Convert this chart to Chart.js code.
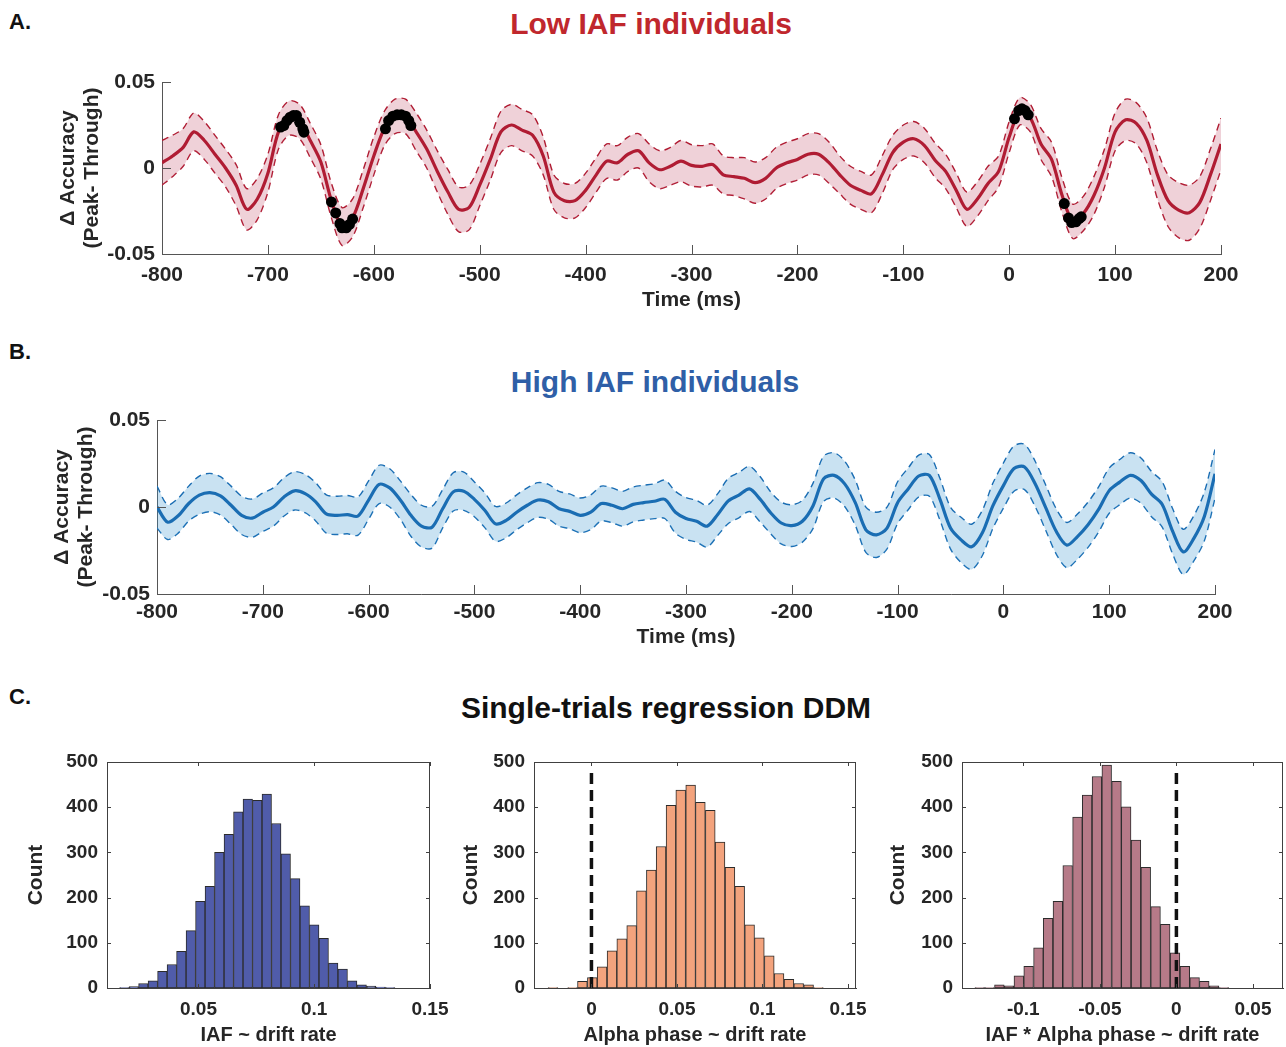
<!DOCTYPE html>
<html>
<head>
<meta charset="utf-8">
<script src="https://cdn.jsdelivr.net/npm/chart.js@4.4.1/dist/chart.umd.min.js"></script>
<style>
  body { margin: 0; background: #fff; width: 1286px; height: 1047px; position: relative; overflow: hidden; font-family: 'Liberation Sans', Arial, sans-serif; }
  canvas { position: absolute; }
  .lbl { position: absolute; font-weight: bold; font-size: 22px; line-height: 26px; color: #111; }
  .ttl { position: absolute; font-weight: bold; font-size: 30px; line-height: 36px; text-align: center; width: 700px; }
</style>
</head>
<body>
<div class="lbl" style="left:9px;top:9px">A.</div>
<div class="ttl" style="left:301px;top:6px;color:#c0272d">Low IAF individuals</div>
<div class="lbl" style="left:9px;top:339px">B.</div>
<div class="ttl" style="left:305px;top:364px;color:#2f5fa7">High IAF individuals</div>
<div class="lbl" style="left:9px;top:684px">C.</div>
<div class="ttl" style="left:316px;top:690px;color:#111">Single-trials regression DDM</div>

<canvas id="chA" width="1286" height="254" style="left:0;top:60px"></canvas>
<canvas id="chB" width="1286" height="250" style="left:0;top:400px"></canvas>
<canvas id="h1" width="460" height="307" style="left:0;top:740px"></canvas>
<canvas id="h2" width="440" height="307" style="left:440px;top:740px"></canvas>
<canvas id="h3" width="426" height="307" style="left:860px;top:740px"></canvas>

<script>
// time axis (ms), 10 ms steps
var timeMs = [
  -800,-790,-780,-770,-760,-750,-740,-730,-720,-710,
  -700,-690,-680,-670,-660,-650,-640,-630,-620,-610,
  -600,-590,-580,-570,-560,-550,-540,-530,-520,-510,
  -500,-490,-480,-470,-460,-450,-440,-430,-420,-410,
  -400,-390,-380,-370,-360,-350,-340,-330,-320,-310,
  -300,-290,-280,-270,-260,-250,-240,-230,-220,-210,
  -200,-190,-180,-170,-160,-150,-140,-130,-120,-110,
  -100,-90,-80,-70,-60,-50,-40,-30,-20,-10,
  0,10,20,30,40,50,60,70,80,90,
  100,110,120,130,140,150,160,170,180,190,
  200
];

// Low IAF: mean delta accuracy and SEM
var lowMean = [
  0.003, 0.007, 0.012, 0.021, 0.016, 0.008, 0.000, -0.010, -0.024, -0.018,
  -0.003, 0.021, 0.029, 0.027, 0.016, 0.0035, -0.019, -0.034, -0.029, -0.012,
  0.007, 0.023, 0.030, 0.030, 0.021, 0.011, -0.002, -0.014, -0.024, -0.023,
  -0.010, 0.005, 0.021, 0.025, 0.022, 0.019, 0.007, -0.014, -0.019, -0.019,
  -0.013, -0.004, 0.004, 0.003, 0.008, 0.010, 0.003, -0.001, 0.001, 0.004,
  0.0015, 0.001, 0.002, -0.004, -0.005, -0.006, -0.0085, -0.006, 0.000, 0.003,
  0.005, 0.008, 0.008, 0.003, -0.004, -0.010, -0.013, -0.015, -0.004, 0.009,
  0.015, 0.017, 0.013, 0.0045, -0.002, -0.013, -0.024, -0.018, -0.009, -0.002,
  0.018, 0.033, 0.029, 0.014, 0.005, -0.016, -0.031, -0.0265, -0.016, 0.000,
  0.021, 0.028, 0.026, 0.016, -0.004, -0.019, -0.0245, -0.026, -0.020, -0.004,
  0.014
];
var lowSem = [
  0.013, 0.012, 0.011, 0.011, 0.011, 0.011, 0.011, 0.012, 0.012, 0.012,
  0.011, 0.010, 0.010, 0.010, 0.010, 0.010, 0.010, 0.011, 0.011, 0.011,
  0.011, 0.010, 0.010, 0.010, 0.011, 0.011, 0.012, 0.013, 0.013, 0.013,
  0.012, 0.012, 0.012, 0.012, 0.012, 0.012, 0.011, 0.010, 0.010, 0.010,
  0.010, 0.010, 0.010, 0.010, 0.010, 0.010, 0.011, 0.011, 0.011, 0.012,
  0.012, 0.012, 0.012, 0.011, 0.011, 0.012, 0.012, 0.012, 0.012, 0.012,
  0.012, 0.012, 0.012, 0.012, 0.011, 0.011, 0.011, 0.011, 0.011, 0.010,
  0.010, 0.010, 0.010, 0.010, 0.010, 0.010, 0.010, 0.010, 0.010, 0.009,
  0.009, 0.008, 0.008, 0.009, 0.010, 0.010, 0.010, 0.010, 0.011, 0.011,
  0.011, 0.012, 0.012, 0.013, 0.014, 0.015, 0.016, 0.016, 0.015, 0.015,
  0.015
];
// significant time points (black dots)
var lowSigTime = [-688, -685, -682, -679, -676, -673, -670, -667, -666,
  -640, -636, -632, -630, -626, -623, -620,
  -589, -586, -582, -578, -574, -570, -567, -565,
  5, 9, 12, 15, 18,
  52, 56, 59, 63, 66, 68];
var lowSigValue = [0.0238, 0.0247, 0.0276, 0.0295, 0.0305, 0.0305, 0.0266, 0.0228, 0.0208,
  -0.0197, -0.0261, -0.0323, -0.0348, -0.0348, -0.0328, -0.0297,
  0.0228, 0.0276, 0.0301, 0.0309, 0.0309, 0.0301, 0.0276, 0.0247,
  0.0286, 0.0334, 0.0344, 0.0334, 0.0309,
  -0.0207, -0.029, -0.0317, -0.0313, -0.0294, -0.0284];

// High IAF
var highMean = [
  0.000, -0.0087, -0.005, 0.002, 0.0068, 0.0083, 0.0064, 0.001, -0.0048, -0.0064,
  -0.003, 0.000, 0.0058, 0.0093, 0.0077, 0.003, -0.004, -0.0048, -0.0044, -0.0052,
  0.004, 0.013, 0.011, 0.004, -0.0048, -0.011, -0.0116, -0.001, 0.0087, 0.0091,
  0.0044, -0.002, -0.0097, -0.0077, -0.003, 0.001, 0.004, 0.003, -0.001, -0.0025,
  -0.0048, -0.003, 0.002, 0.001, -0.001, 0.0015, 0.0025, 0.0033, 0.0044, -0.003,
  -0.0066, -0.0082, -0.011, -0.0043, 0.0035, 0.0068, 0.0104, 0.0045, -0.0033, -0.0092,
  -0.0107, -0.0082, 0.0006, 0.0162, 0.0182, 0.0133, 0.0025, -0.0131, -0.016, -0.0121,
  0.0025, 0.0104, 0.0178, 0.0182, 0.0045, -0.0121, -0.0189, -0.0229, -0.015, 0.0006,
  0.0123, 0.0221, 0.023, 0.0133, -0.0004, -0.0141, -0.0219, -0.017, -0.0102, -0.0014,
  0.0094, 0.0143, 0.0182, 0.0152, 0.0074, 0.0016, -0.014, -0.0258, -0.018, -0.0053,
  0.0191
];
var highSem = [
  0.012, 0.010, 0.010, 0.010, 0.011, 0.011, 0.011, 0.011, 0.011, 0.011,
  0.011, 0.011, 0.011, 0.011, 0.011, 0.011, 0.011, 0.011, 0.011, 0.011,
  0.011, 0.011, 0.011, 0.011, 0.012, 0.012, 0.012, 0.011, 0.011, 0.011,
  0.010, 0.010, 0.010, 0.010, 0.010, 0.010, 0.010, 0.010, 0.010, 0.010,
  0.010, 0.010, 0.010, 0.010, 0.010, 0.010, 0.010, 0.010, 0.011, 0.012,
  0.012, 0.012, 0.012, 0.012, 0.013, 0.013, 0.013, 0.013, 0.012, 0.012,
  0.012, 0.012, 0.013, 0.013, 0.013, 0.013, 0.013, 0.013, 0.013, 0.012,
  0.012, 0.012, 0.012, 0.012, 0.012, 0.012, 0.013, 0.013, 0.013, 0.013,
  0.013, 0.013, 0.013, 0.013, 0.013, 0.013, 0.013, 0.013, 0.013, 0.013,
  0.013, 0.013, 0.013, 0.013, 0.013, 0.013, 0.013, 0.013, 0.013, 0.014,
  0.014
];
var accTicks = [-0.05, 0, 0.05];

// histograms of posterior samples
var h1Bins = [0.0180, 0.0221, 0.0262, 0.0303, 0.0344, 0.0385, 0.0426, 0.0467, 0.0508, 0.0549,
  0.0590, 0.0631, 0.0672, 0.0713, 0.0754, 0.0795, 0.0836, 0.0877, 0.0918, 0.0959,
  0.1000, 0.1041, 0.1082, 0.1123, 0.1164, 0.1205, 0.1246, 0.1287, 0.1328];
var h1Counts = [1, 3, 10, 16, 37, 52, 81, 127, 192, 225,
  300, 340, 390, 418, 415, 429, 364, 297, 242, 182,
  140, 110, 55, 42, 16, 7, 4, 2, 1];
var h1Ticks = [0.05, 0.1, 0.15];

var h2Bins = [-0.0225, -0.0168, -0.0110, -0.0053, 0.0005, 0.0062, 0.0120, 0.0177, 0.0235, 0.0292,
  0.0350, 0.0407, 0.0465, 0.0522, 0.0580, 0.0637, 0.0695, 0.0752, 0.0810, 0.0867,
  0.0925, 0.0982, 0.1040, 0.1097, 0.1155, 0.1212, 0.1270, 0.1327];
var h2Counts = [1, 0, 1, 15, 23, 47, 82, 109, 138, 215,
  261, 313, 404, 438, 449, 411, 393, 323, 267, 225,
  140, 111, 71, 32, 19, 10, 7, 1];
var h2Ticks = [0, 0.05, 0.1, 0.15];

var h3Bins = [-0.1284, -0.1220, -0.1156, -0.1093, -0.1029, -0.0965, -0.0901, -0.0838, -0.0774, -0.0710,
  -0.0646, -0.0583, -0.0519, -0.0455, -0.0391, -0.0328, -0.0264, -0.0200, -0.0136, -0.0073,
  -0.0009, 0.0055, 0.0119, 0.0182, 0.0246, 0.0310];
var h3Counts = [1, 1, 7, 5, 27, 48, 89, 154, 192, 271,
  378, 427, 468, 493, 457, 401, 327, 267, 180, 141,
  78, 48, 23, 15, 5, 1];
var h3Ticks = [-0.1, -0.05, 0, 0.05];

var countTicks = [0, 100, 200, 300, 400, 500];
var zeroLineTop = 478;

Chart.defaults.color = '#262626';
Chart.defaults.animation = false;

var narrow = "'Liberation Sans Narrow', 'Arial Narrow', 'Liberation Sans', sans-serif";
var wide = "'Liberation Sans', Arial, sans-serif";

// ticks pointing into the plot, optional full box
var inTicks = {
  id: 'inTicks',
  afterDraw: function (chart, args, o) {
    var ctx = chart.ctx, a = chart.chartArea;
    var sx = chart.scales.x, sy = chart.scales.y;
    ctx.save();
    ctx.strokeStyle = o.color;
    ctx.lineWidth = 1;
    ctx.beginPath();
    sx.ticks.forEach(function (t, i) {
      var px = Math.round(sx.getPixelForTick(i)) + 0.5;
      ctx.moveTo(px, a.bottom); ctx.lineTo(px, a.bottom - o.len);
      if (o.box) { ctx.moveTo(px, a.top); ctx.lineTo(px, a.top + o.len); }
    });
    sy.ticks.forEach(function (t, i) {
      var py = Math.round(sy.getPixelForTick(i)) + 0.5;
      ctx.moveTo(a.left, py); ctx.lineTo(a.left + o.len, py);
      if (o.box) { ctx.moveTo(a.right, py); ctx.lineTo(a.right - o.len, py); }
    });
    if (o.box) {
      ctx.moveTo(a.left, Math.round(a.top) + 0.5); ctx.lineTo(a.right, Math.round(a.top) + 0.5);
      ctx.moveTo(Math.round(a.right) - 0.5, a.top); ctx.lineTo(Math.round(a.right) - 0.5, a.bottom);
    }
    ctx.stroke();
    ctx.restore();
  }
};

function pairs(xs, ys) {
  return xs.map(function (x, i) { return { x: x, y: ys[i] }; });
}

function timeChart(id, mean, sem, sig, lineColor, fillColor, L) {
  var upper = mean.map(function (m, i) { return m + sem[i]; });
  var lower = mean.map(function (m, i) { return m - sem[i]; });
  var datasets = [];
  if (sig) {
    datasets.push({ data: pairs(sig[0], sig[1]), showLine: false, pointRadius: 5.5, pointBackgroundColor: '#000', pointBorderWidth: 0 });
  }
  datasets.push({ data: pairs(timeMs, mean), borderColor: lineColor, borderWidth: 3.2, pointRadius: 0, tension: 0.3 });
  datasets.push({ data: pairs(timeMs, upper), borderColor: lineColor, borderWidth: 1.4, borderDash: [7, 5], pointRadius: 0, tension: 0.3, fill: '+1', backgroundColor: fillColor });
  datasets.push({ data: pairs(timeMs, lower), borderColor: lineColor, borderWidth: 1.4, borderDash: [7, 5], pointRadius: 0, tension: 0.3 });

  return new Chart(document.getElementById(id), {
    type: 'line',
    data: { datasets: datasets },
    options: {
      responsive: false,
      layout: { padding: { left: 0, right: L.right, top: L.top, bottom: 0 } },
      plugins: { legend: { display: false }, tooltip: { enabled: false }, inTicks: { color: '#555', len: 9, box: false } },
      scales: {
        x: {
          type: 'linear', min: -800, max: 200,
          grid: { display: false, drawTicks: false },
          border: { display: true, color: '#555', width: 1 },
          ticks: { stepSize: 100, autoSkip: false, maxRotation: 0, padding: L.tickPad, font: { family: narrow, weight: 'bold', size: 21 }, callback: function (v) { return String(v); } },
          title: { display: true, text: 'Time (ms)', font: { family: narrow, weight: 'bold', size: 21, lineHeight: 1.2 }, padding: { top: 0, bottom: L.titleBottom } },
          afterFit: function (s) { s.height = L.xh; }
        },
        y: {
          type: 'linear', min: -0.05, max: 0.05,
          grid: { display: false, drawTicks: false },
          border: { display: true, color: '#555', width: 1 },
          afterBuildTicks: function (s) { s.ticks = accTicks.map(function (v) { return { value: v }; }); },
          ticks: { padding: 7, font: { family: narrow, weight: 'bold', size: 21 }, callback: function (v) { return String(v); } },
          title: { display: true, text: ['\u0394 Accuracy', '(Peak- Through)'], font: { family: wide, weight: 'bold', size: 21, lineHeight: 1.15 }, padding: { top: L.yTitle, bottom: 0 } },
          afterFit: function (s) { s.width = L.yw; }
        }
      }
    },
    plugins: [inTicks]
  });
}

timeChart('chA', lowMean, lowSem, [lowSigTime, lowSigValue], '#b01c33', 'rgba(190, 70, 100, 0.25)',
  { right: 65, top: 22, xh: 60, yw: 162, tickPad: 9, titleBottom: 1, yTitle: 56 });
timeChart('chB', highMean, highSem, null, '#1a6db3', 'rgba(60, 150, 210, 0.28)',
  { right: 71, top: 20, xh: 56, yw: 157, tickPad: 6, titleBottom: 0, yTitle: 50 });

function histChart(id, bins, counts, color, xmin, xmax, xticks, xtitle, L, refLine) {
  var datasets = [{
    type: 'bar', data: pairs(bins, counts), backgroundColor: color, borderColor: '#2b2b2b',
    borderWidth: 1, borderSkipped: false, barPercentage: 1, categoryPercentage: 1
  }];
  if (refLine) {
    datasets.unshift({ type: 'line', data: [{ x: 0, y: 0 }, { x: 0, y: zeroLineTop }], borderColor: '#111', borderWidth: 3.5, borderDash: [11, 6], pointRadius: 0 });
  }
  return new Chart(document.getElementById(id), {
    type: 'bar',
    data: { datasets: datasets },
    options: {
      responsive: false,
      layout: { padding: { left: 0, right: L.right, top: 22, bottom: 0 } },
      plugins: { legend: { display: false }, tooltip: { enabled: false }, inTicks: { color: '#404040', len: 4, box: true } },
      scales: {
        x: {
          type: 'linear', min: xmin, max: xmax, offset: false,
          grid: { display: false, drawTicks: false },
          border: { display: true, color: '#404040', width: 1 },
          afterBuildTicks: function (s) { s.ticks = xticks.map(function (v) { return { value: v }; }); },
          ticks: { autoSkip: false, maxRotation: 0, padding: 10, font: { family: wide, weight: 'bold', size: 19 }, callback: function (v) { return String(v); } },
          title: { display: true, text: xtitle, font: { family: wide, weight: 'bold', size: 20, lineHeight: 1.2 }, padding: { top: 0, bottom: 0 } },
          afterFit: function (s) { s.height = 59; }
        },
        y: {
          type: 'linear', min: 0, max: 500,
          grid: { display: false, drawTicks: false },
          border: { display: true, color: '#404040', width: 1 },
          afterBuildTicks: function (s) { s.ticks = countTicks.map(function (v) { return { value: v }; }); },
          ticks: { padding: 9, font: { family: wide, weight: 'bold', size: 19 } },
          title: { display: true, text: 'Count', font: { family: wide, weight: 'bold', size: 21, lineHeight: 1.2 }, padding: { top: L.yTitle, bottom: 0 } },
          afterFit: function (s) { s.width = L.yw; }
        }
      }
    },
    plugins: [inTicks]
  });
}

histChart('h1', h1Bins, h1Counts, '#505caa', 0.0105, 0.15, h1Ticks, 'IAF ~ drift rate', { right: 30, yw: 107, yTitle: 24 }, false);
histChart('h2', h2Bins, h2Counts, '#f3a37d', -0.0336, 0.1547, h2Ticks, 'Alpha phase ~ drift rate', { right: 24, yw: 94, yTitle: 19 }, true);
histChart('h3', h3Bins, h3Counts, '#b67a88', -0.14, 0.0696, h3Ticks, 'IAF * Alpha phase ~ drift rate', { right: 3, yw: 102, yTitle: 26 }, true);
</script>
</body>
</html>
